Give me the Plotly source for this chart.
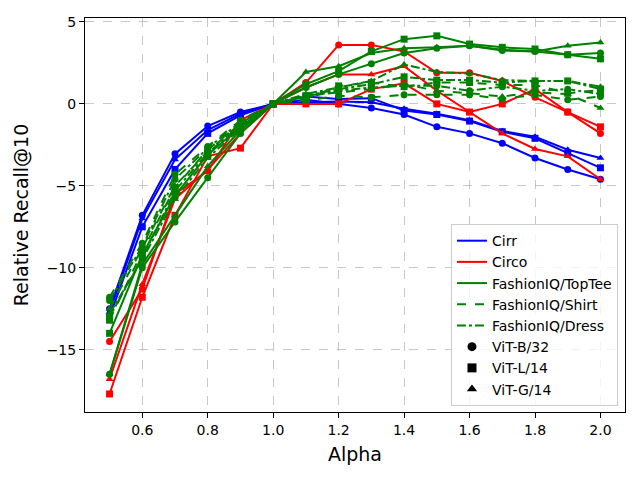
import plotly.graph_objects as go

# Valores de alpha (eixo X)
alphas = [0.5, 0.6, 0.7, 0.8, 0.9, 1.0, 1.1, 1.2, 1.3, 1.4, 1.5, 1.6, 1.7, 1.8, 1.9, 2.0]

# Cirr
cirr_b32 = [-12.5, -6.8, -3.05, -1.35, -0.5, 0.0, 0.25, 0.0, -0.25, -0.65, -1.4, -1.8, -2.4, -3.3, -4.0, -4.6]
cirr_l14 = [-13.0, -7.5, -4.0, -1.8, -0.7, 0.0, 0.45, 0.3, 0.35, -0.4, -0.65, -1.05, -1.7, -2.1, -3.0, -3.9]
cirr_g14 = [-12.7, -7.0, -3.4, -1.6, -0.6, 0.0, 0.1, 0.15, 0.1, -0.3, -0.6, -1.0, -1.65, -2.0, -2.8, -3.3]

# Circo
circo_b32 = [-14.5, -11.3, -5.5, -4.1, -1.0, 0.0, 1.3, 3.6, 3.6, 3.2, 1.9, 1.9, 1.4, 0.4, -0.5, -1.8]
circo_l14 = [-17.7, -11.8, -6.8, -3.2, -2.7, 0.0, 0.0, 0.0, 0.9, 1.25, 0.0, -0.5, 0.0, 0.9, -0.5, -1.4]
circo_g14 = [-16.8, -11.0, -5.8, -4.0, -1.8, 0.0, 1.0, 1.8, 1.8, 2.3, 0.8, -0.5, -1.8, -2.75, -3.2, -4.6]

# FashionIQ/TopTee
toptee_b32 = [-16.5, -10.0, -7.2, -4.5, -1.8, 0.0, 1.0, 1.8, 2.45, 3.1, 3.4, 3.55, 3.25, 3.2, 3.0, 3.1]
toptee_l14 = [-14.0, -9.2, -5.6, -3.1, -1.4, 0.0, 1.2, 2.0, 3.2, 3.95, 4.15, 3.65, 3.45, 3.35, 3.0, 2.75]
toptee_g14 = [-16.5, -9.8, -6.8, -3.8, -1.6, 0.0, 1.95, 2.3, 3.1, 3.4, 3.45, 3.55, 3.3, 3.2, 3.55, 3.75]

# FashionIQ/Shirt
shirt_b32 = [-11.8, -8.5, -4.3, -2.6, -1.0, 0.0, 0.2, 0.5, 0.4, 0.55, 0.55, 0.55, 0.3, 0.55, 0.25, 0.45]
shirt_l14 = [-13.2, -9.0, -5.1, -2.8, -1.2, 0.0, 0.3, 1.1, 1.3, 1.05, 1.3, 1.3, 1.15, 1.15, 0.65, 0.85]
shirt_g14 = [-12.5, -8.8, -5.0, -2.9, -1.2, 0.0, 0.5, 0.7, 0.9, 1.2, 0.8, 0.65, 0.45, 0.7, 0.6, -0.25]

# FashionIQ/Dress
dress_b32 = [-12.0, -8.7, -4.6, -2.7, -1.1, 0.0, 0.4, 0.8, 1.0, 1.1, 1.1, 0.8, 1.05, 0.8, 0.9, 0.6]
dress_l14 = [-13.0, -9.4, -5.3, -3.0, -1.3, 0.0, 0.5, 0.9, 1.2, 1.65, 1.45, 1.45, 1.3, 1.4, 1.4, 0.9]
dress_g14 = [-12.8, -9.5, -5.8, -3.3, -1.5, 0.0, 0.6, 1.0, 1.4, 2.4, 1.95, 1.85, 1.45, 1.4, 1.4, 1.05]

datasets = ["Cirr", "Circo", "FashionIQ/TopTee", "FashionIQ/Shirt", "FashionIQ/Dress"]
models = ["ViT-B/32", "ViT-L/14", "ViT-G/14"]

series = {
    "Cirr": [cirr_b32, cirr_l14, cirr_g14],
    "Circo": [circo_b32, circo_l14, circo_g14],
    "FashionIQ/TopTee": [toptee_b32, toptee_l14, toptee_g14],
    "FashionIQ/Shirt": [shirt_b32, shirt_l14, shirt_g14],
    "FashionIQ/Dress": [dress_b32, dress_l14, dress_g14],
}

# Estilos por dataset e por modelo
cores = {"Cirr": "blue", "Circo": "red", "FashionIQ/TopTee": "green",
         "FashionIQ/Shirt": "green", "FashionIQ/Dress": "green"}
tracos = {"Cirr": "solid", "Circo": "solid", "FashionIQ/TopTee": "solid",
          "FashionIQ/Shirt": "dash", "FashionIQ/Dress": "dashdot"}
simbolos = {"ViT-B/32": "circle", "ViT-L/14": "square", "ViT-G/14": "triangle-up"}

fig = go.Figure()

for ds in datasets:
    for model, valores in zip(models, series[ds]):
        fig.add_trace(go.Scatter(
            x=alphas, y=valores,
            mode="lines+markers",
            line=dict(color=cores[ds], width=2, dash=tracos[ds]),
            marker=dict(symbol=simbolos[model], size=7, color=cores[ds]),
            showlegend=False,
        ))

# Entradas da legenda (datasets = linhas, modelos = marcadores)
for ds in datasets:
    fig.add_trace(go.Scatter(
        x=[None], y=[None], mode="lines", name=ds,
        line=dict(color=cores[ds], width=2, dash=tracos[ds]),
    ))
for model in models:
    fig.add_trace(go.Scatter(
        x=[None], y=[None], mode="markers", name=model,
        marker=dict(symbol=simbolos[model], size=9, color="black"),
    ))

eixo = dict(
    showgrid=True,
    gridcolor="rgba(176,176,176,0.7)",
    griddash="dash",
    gridwidth=1,
    showline=True,
    linecolor="black",
    linewidth=1,
    mirror=True,
    ticks="outside",
    ticklen=5,
    tickcolor="black",
    zeroline=False,
    automargin=False,
    tickfont=dict(size=14, color="black"),
    title_font=dict(size=19, color="black"),
)

# A página tem 8px de margem no body, por isso a área útil é deslocada
fig.update_layout(
    width=640, height=480,
    margin=dict(l=77, r=23, t=10, b=76),
    paper_bgcolor="white",
    plot_bgcolor="white",
    font=dict(family="DejaVu Sans", color="black"),
    xaxis=dict(eixo, title=dict(text="Alpha", standoff=10), range=[0.425, 2.075],
               tickvals=[0.6, 0.8, 1.0, 1.2, 1.4, 1.6, 1.8, 2.0],
               ticktext=["0.6", "0.8", "1.0", "1.2", "1.4", "1.6", "1.8", "2.0"]),
    yaxis=dict(eixo, title=dict(text="Relative Recall@10", standoff=13), range=[-18.8, 5.24],
               tickvals=[-15, -10, -5, 0, 5]),
    legend=dict(
        x=0.987, y=0.015, xanchor="right", yanchor="bottom",
        bgcolor="rgba(255,255,255,0.8)",
        bordercolor="#cccccc", borderwidth=1,
        font=dict(size=14, color="black"),
        itemwidth=30,
        tracegroupgap=0,
    ),
)

fig.write_html("out.html")
